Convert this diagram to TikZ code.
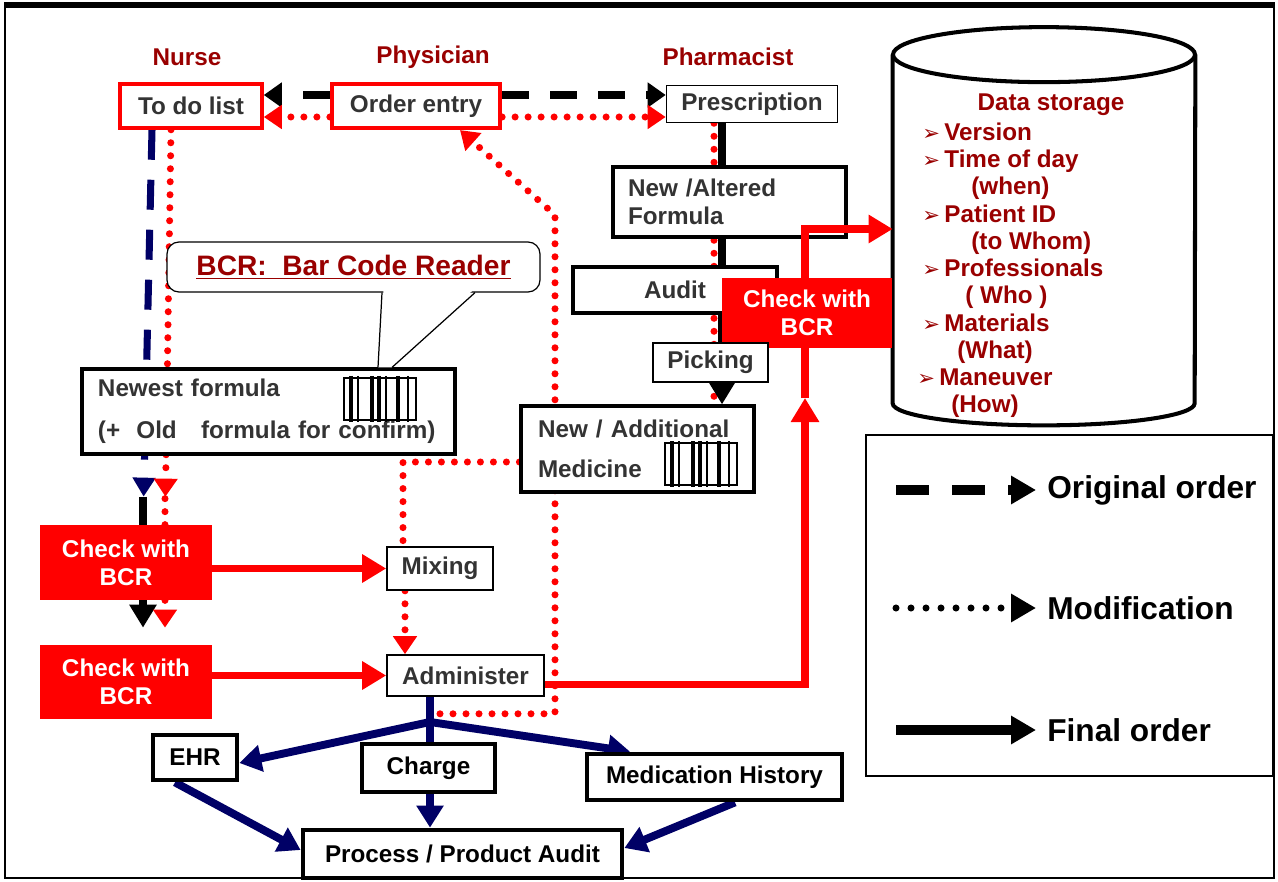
\documentclass[tikz,border=0pt]{standalone}
\usepackage{fontspec}
\setmainfont{Liberation Sans}
\newfontfamily\symfont{DejaVu Sans}
\usetikzlibrary{arrows.meta,backgrounds,positioning}

\definecolor{hdrred}{HTML}{990000}
\definecolor{boxgray}{HTML}{333333}
\definecolor{ordnavy}{HTML}{000066}
\newcommand{\storebullet}{\makebox[4.4mm][l]{\symfont\fontsize{12}{12}\selectfont ➢}}

\begin{document}
\begin{tikzpicture}[
    x=0.2mm, y=-0.2mm,
    every node/.style={font=\bfseries\fontsize{13.8}{16}\selectfont, text=boxgray, inner sep=0pt},
    rolehead/.style={text=hdrred},
    rolebox/.style={draw=red, line width=2pt, fill=white},
    thinbox/.style={draw, line width=0.9pt, fill=white},
    thickbox/.style={draw, line width=1.8pt, fill=white},
    heavybox/.style={draw, line width=2.7pt, fill=white, text=black},
    bcrbox/.style={fill=red, text=white, align=center},
    origline/.style={line width=4.5pt, dash pattern=on 5.4mm off 4.2mm, -{Triangle[length=3.6mm,width=4.8mm]}},
    modline/.style={red, line width=4pt, line cap=round, dash pattern=on 0pt off 2.6mm, -{Triangle[length=3.6mm,width=4.6mm]}},
    finalline/.style={line width=4.5pt, -{Triangle[length=4.6mm,width=5.2mm]}},
    navydash/.style={ordnavy, line width=4pt, dash pattern=on 6mm off 4mm, -{Triangle[length=3.8mm,width=4.4mm]}},
    bcrarrow/.style={red, line width=4.5pt, -{Triangle[length=4.8mm,width=5.4mm]}},
    navyline/.style={ordnavy, line width=4.5pt},
    navyarrow/.style={ordnavy, line width=4.5pt, -{Triangle[length=4.4mm,width=5.2mm]}},
    legtext/.style={anchor=west, text=black, font=\bfseries\fontsize{18}{20}\selectfont},
    barcode/.pic={
      \draw[line width=0.8pt, fill=white] (-36,-21) rectangle (36,21);
      \foreach \bx/\bw in {-29/2.4,-22/1,-8/2.2,-1/2.6,6/1,18/2,28/0.8}
        \draw[line width=\bw pt] (\bx,-23) -- (\bx,23);
    }
  ]
    \useasboundingbox (0,0) rectangle (1278,882);
    \draw[line width=1.2pt] (5,5) rectangle (1274,878);
    \draw[line width=3pt] (4,5) -- (1275,5);

    \node[rolehead] (nurse) at (187,57) {Nurse};
    \node[rolehead] (physician) at (433,57) {Physician};
    \node[rolehead] (pharmacist) at (728,57) {Pharmacist};

    \node[rolebox, minimum width=28.4mm, minimum height=8.8mm] (todo) at (191,106) {To do list};
    \node[rolebox, line width=2.4pt, minimum width=33.6mm, minimum height=8.8mm] (order) at (416,106) {Order entry};
    \node[thinbox, minimum width=34.2mm, minimum height=7.4mm] (presc) at (752,104) {Prescription};

    \node[minimum width=60.4mm, minimum height=69.6mm] (store) at (1044,229) {};
    \draw[line width=2.3pt, fill=white] (store.north west) -- (store.south west) arc[start angle=180, end angle=360, x radius=30.2mm, y radius=4.4mm] -- (store.north east);
    \draw[line width=2.3pt, fill=white] (store.north) ellipse[x radius=30.2mm, y radius=5.5mm];
    \node[rolehead] (storetitle) at (1051,105) {Data storage};
    \node[rolehead, anchor=north west, align=left, font=\bfseries\fontsize{13.8}{15.5}\selectfont] (storelist) at (919,122.5) {%
      \hspace*{0.6mm}\storebullet Version\\
      \hspace*{0.6mm}\storebullet Time of day\\
      \hspace*{10.4mm}(when)\\
      \hspace*{0.6mm}\storebullet Patient ID\\
      \hspace*{10.4mm}(to Whom)\\
      \hspace*{0.6mm}\storebullet Professionals\\
      \hspace*{9.2mm}(\ Who\ )\\
      \hspace*{0.6mm}\storebullet Materials\\
      \hspace*{7.6mm}(What)\\
      \hspace*{-0.4mm}\storebullet Maneuver\\
      \hspace*{6.4mm}(How)};

    \node[thickbox, minimum width=46.6mm, minimum height=14mm, text width=40.6mm, align=left] (altered) at (729.5,202) {New /Altered\\Formula};
    \node[heavybox, text=boxgray, minimum width=40.8mm, minimum height=9.2mm] (audit) at (675,290) {Audit};

    \coordinate (upmid) at (805,398);
    \draw[bcrarrow] (upmid) |- (store.west);

    \node[bcrbox, minimum width=34mm, minimum height=14mm] (checkR) at (807,313) {Check with\\BCR};
    \node[thinbox, minimum width=23mm, minimum height=7.8mm] (picking) at (710.5,362.5) {Picking};
    \node[thickbox, minimum width=46.6mm, minimum height=17.2mm, text width=39.8mm, align=left] (addmed) at (637.5,449) {New / Additional\\[6.7pt]Medicine};
    \pic at (701,464) {barcode};

    \node[draw, line width=0.7pt, fill=white, rounded corners=2.4mm, minimum width=74.6mm, minimum height=10mm] (callout) at (353.5,267) {\fontsize{16}{18}\selectfont\color{hdrred}\underline{BCR:\ \ Bar Code Reader}};
    \node[thickbox, minimum width=74.6mm, minimum height=17mm, text width=68.2mm, align=left] (newest) at (268.5,411.5) {Newest formula\\[7.8pt](+\ \ Old\ \ \ formula for confirm)};
    \pic at (380,399) {barcode};
    \fill[white] ([xshift=6mm,yshift=0.6mm]callout.south) -- ([xshift=21.9mm]newest.north) -- ([xshift=24.7mm]newest.north) -- ([xshift=24mm,yshift=0.6mm]callout.south) -- cycle;
    \draw[line width=0.7pt] ([xshift=5.7mm]callout.south) -- ([xshift=21.9mm]newest.north);
    \draw[line width=0.7pt] ([xshift=24.3mm]callout.south) -- ([xshift=24.7mm]newest.north);

    \node[bcrbox, minimum width=34.4mm, minimum height=15mm] (checkA) at (126,562.5) {Check with\\BCR};
    \node[bcrbox, minimum width=34.4mm, minimum height=14.8mm] (checkB) at (126,682) {Check with\\BCR};
    \node[thinbox, minimum width=21.2mm, minimum height=8.6mm] (mixing) at (440,568.5) {Mixing};
    \node[thinbox, minimum width=31.4mm, minimum height=8.2mm] (admin) at (465.5,675.5) {Administer};

    \node[heavybox, minimum width=16.8mm, minimum height=9mm] (ehr) at (195,757.5) {EHR};
    \node[heavybox, minimum width=26.6mm, minimum height=9.6mm] (charge) at (428.5,768) {Charge};
    \node[heavybox, minimum width=51mm, minimum height=9.2mm] (medhist) at (714.5,777) {Medication History};
    \node[heavybox, minimum width=63.8mm, minimum height=9.6mm] (prodaudit) at (462.5,854) {Process / Product Audit};

    \node[draw, line width=1pt, minimum width=81.4mm, minimum height=68.2mm] (legend) at (1069.5,605.5) {};
    \node[legtext] (legorig) at (1047,490) {Original order};
    \node[legtext] (legmod) at (1047,608) {Modification};
    \node[legtext] (legfinal) at (1047,730) {Final order};
    \draw[line width=5.5pt, dash pattern=on 6.6mm off 4.6mm, -{Triangle[length=5mm,width=5.4mm]}] ([xshift=-30.2mm]legorig.west) -- ([xshift=-2.2mm]legorig.west);
    \draw[line width=4pt, line cap=round, dash pattern=on 0pt off 3mm, -{Triangle[length=5mm,width=5.4mm]}] ([xshift=-30.2mm]legmod.west) -- ([xshift=-2.2mm]legmod.west);
    \draw[line width=5.5pt, -{Triangle[length=5mm,width=5.4mm]}] ([xshift=-30.2mm]legfinal.west) -- ([xshift=-2.2mm]legfinal.west);

    \coordinate (modturn) at (555,215);
    \coordinate (split) at (430,722);

    \begin{scope}[on background layer]
      \draw[origline] ([yshift=2.2mm]order.west) -- ([yshift=2.2mm]todo.east);
      \draw[origline] ([yshift=2.2mm]order.east) -- ([yshift=2.2mm]order.east -| presc.west);
      \draw[modline] ([yshift=-2.2mm]order.west) -- ([yshift=-2.2mm]todo.east);
      \draw[modline] ([yshift=-2.2mm]order.east) -- ([yshift=-2.2mm]order.east -| presc.west);

      \draw[modline, -] ([xshift=-7.6mm]presc.south) -- ([xshift=-7.6mm]presc.south |- addmed.north);
      \draw[finalline] ([xshift=-6mm]presc.south) -- ([xshift=-6mm]presc.south |- addmed.north);

      \draw[navydash, shorten >=5.6mm] ([xshift=-7.8mm]todo.south) -- ([xshift=3.4mm]checkA.north);
      \draw[line width=4.5pt] ([xshift=3.4mm,yshift=5.6mm]checkA.north) -- ([xshift=3.4mm]checkA.north);
      \draw[modline, shorten >=5.6mm] ([xshift=-4mm]todo.south) -- ([xshift=7.8mm]checkA.north);
      \draw[modline, -] ([xshift=7.8mm,yshift=5.2mm]checkA.north) -- ([xshift=7.8mm]checkA.north);
      \draw[finalline, shorten >=3.4mm] ([xshift=3.4mm]checkA.south) -- ([xshift=3.4mm]checkB.north);
      \draw[modline, shorten >=3.4mm] ([xshift=7.8mm]checkA.south) -- ([xshift=7.8mm]checkB.north);

      \draw[bcrarrow] (checkA.east |- mixing.west) -- (mixing.west);
      \draw[bcrarrow] (checkB.east |- admin.west) -- (admin.west);
      \draw[bcrarrow] ([yshift=-1.8mm]admin.east) -| (upmid);

      \draw[modline] ([xshift=-5.1mm,yshift=-3.4mm]admin.south) -| (modturn) -- ([xshift=8.8mm]order.south);
      \draw[modline, -] ([yshift=-2.6mm]addmed.west) -| ([xshift=-7.4mm]mixing.north);
      \draw[modline] ([xshift=-7mm]mixing.south) -- ([xshift=-7mm]mixing.south |- admin.north);

      \draw[navyline] ([xshift=-7.1mm]admin.south) -- ([xshift=-7.1mm]admin.south |- charge.north);
      \draw[navyarrow] (split) -- ([yshift=-1.1mm]ehr.east);
      \draw[navyarrow] (split) -- ([xshift=-16.9mm]medhist.north);
      \draw[navyarrow] ([xshift=0.3mm]charge.south) -- ([xshift=0.3mm]charge.south |- prodaudit.north);
      \draw[navyarrow] ([xshift=-4mm]ehr.south) -- ([yshift=0.8mm]prodaudit.west);
      \draw[navyarrow] ([xshift=4.1mm]medhist.south) -- ([yshift=1.2mm]prodaudit.east);
    \end{scope}
  \end{tikzpicture}
\end{document}
